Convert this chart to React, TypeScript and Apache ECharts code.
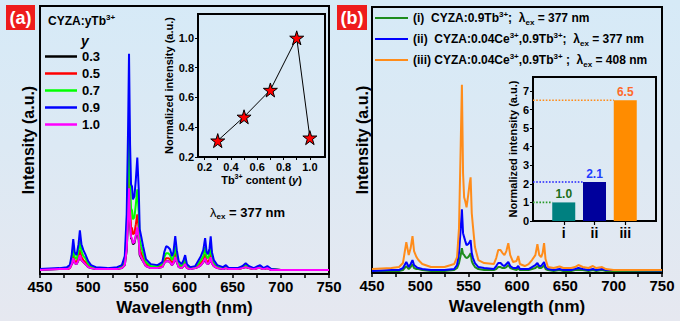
import React, { useEffect, useRef } from 'react';
import * as echarts from 'echarts';

const FONT = '"Liberation Sans", Arial, Helvetica, sans-serif';

// ---------- Panel (a): emission spectra, CYZA:yTb3+ (lambda_ex = 377 nm) ----------
const WL_A = [450,470,478,481,483,484.5,486,488,490,491.4,493,495,497,500,503,508,520,530,535,538,540,541.5,542.4,543.5,544.5,545.5,546.5,548,549.5,551,552.5,553.5,555,557,560,565,572,577,579,581,583,585,587,588.5,590.4,592,594,597,599,600.7,602.5,606,611,614,617,619.5,621.4,623,624.5,626,627.2,628.5,630.5,634,640,643,646,655,660,663.5,667,672,676,678.5,682,686,690,700,720,750];
const Y_03 = [4,5,5,6,10,15,11,10,14,18, 14,12,10,7,6,5,5,5,6,9, 24,58,84,51,36,35,30,31,38,46, 34,19,16,13,8,6,6,7,11,13, 13,12,9,11,16,12,7,6,8,10, 6,5,6,7,9,12,15,11,10,12, 16,11,8,6,5,6,5,5,6,7, 6,5,6,6,5,6,4,4,4,4];
const Y_05 = [5,5,5,6,12,20,13,12,17,24, 17,14,12,9,7,6,5,6,7,11, 32,77,112,67,47,46,40,41,50,60, 45,25,21,16,10,7,7,8,13,16, 16,15,11,13,21,14,9,7,9,12, 7,6,6,9,11,14,20,13,12,15, 21,13,9,7,6,7,5,5,6,8, 6,5,6,7,5,6,5,4,4,4];
const Y_07 = [5,5,6,8,16,26,17,15,23,33, 23,18,16,10,8,6,5,6,8,14, 44,109,160,95,66,64,55,57,70,85, 62,34,28,21,12,8,8,10,17,21, 21,19,14,17,28,18,10,8,11,15, 8,6,7,10,14,18,27,17,16,20, 28,17,11,8,6,8,5,5,7,9, 7,5,7,8,5,7,5,4,4,4];
const Y_09 = [5,6,7,9,20,35,22,19,30,44, 30,24,20,13,9,7,6,7,9,18, 60,150,221,130,90,88,75,78,95,117, 85,45,38,28,15,10,9,12,22,28, 27,25,18,22,38,24,13,10,14,19, 10,7,8,13,18,24,36,22,20,26, 38,22,14,9,7,9,6,6,8,11, 8,6,8,9,6,8,5,4,4,4];
const Y_10 = [4,5,5,6,10,16,11,10,14,19, 14,12,10,7,6,5,5,5,6,9, 25,59,86,52,37,36,31,32,39,47, 35,20,17,13,8,6,6,7,11,13, 13,12,9,11,17,12,7,6,8,10, 6,5,6,7,9,12,16,11,10,12, 17,11,8,6,5,6,5,5,6,7, 6,5,6,6,5,6,4,4,4,4];
const SERIES_A_NAMES = ['0.3', '0.5', '0.7', '0.9', '1.0'];
const SERIES_A_COLORS = ['#000000', '#ff0000', '#00ff00', '#0000ff', '#ff00ff'];

// inset (a): normalized intensity vs Tb3+ content
const TB_CONTENT = [0.3, 0.5, 0.7, 0.9, 1.0];
const NORM_INT = [0.31, 0.47, 0.65, 1.0, 0.33];
const INSET_A_X_LABELS = [0.2, 0.4, 0.6, 0.8, 1.0];
const INSET_A_X_TICKS = [0.2, 0.3, 0.4, 0.5, 0.6, 0.7, 0.8, 0.9, 1.0];
const INSET_A_Y_TICKS = [0.2, 0.4, 0.6, 0.8, 1.0];

// ---------- Panel (b) ----------
const WL_B = [450,470,478,482,485.5,488,490,491.9,493.5,496, 498,502,511,525,535,538,540,541.8,543,544.2, 545.3,546.5,547.8,549.5,551,552,553.2,554.5,556.5,560, 566,576,578.5,580.6,583,585,587,589,591,593, 596,599.5,601.3,603,608,612,615.5,619,621.1,623, 625,626.5,628,629.5,632,638,644,648,656,660, 663.5,668,674,678.5,682,688,692,700,750];
const Y_I = [2,2,2,3,7,4,6,9,5,4, 4,3,2,2,3,5,10,18,25,19, 18,16,15,16,18,20,12,9,6,4, 3,3,4,6,6,5,5,6,8,5, 4,3,5,3,3,3,4,5,7,5, 5,6,8,4,3,2,3,2,2,3, 3,3,2,3,2,3,2,2,2];
const Y_II = [2,3,3,5,11,6,9,13,8,6, 5,4,3,3,4,8,20,45,64,40, 36,32,28,29,31,33,20,15,10,6, 5,4,7,10,10,8,7,9,11,7, 5,5,7,4,4,4,6,8,10,7, 7,9,11,6,4,3,4,3,3,4, 5,4,3,4,3,4,3,3,2.5];
const Y_III = [4,5,6,10,31,18,25,37,22,16, 13,9,6,6,9,16,45,130,189,100, 76,72,66,78,90,96,60,46,26,13, 10,9,15,23,23,20,18,22,30,18, 11,12,17,9,7,9,13,18,29,18, 16,20,30,14,6,5,6.5,5,5,6, 8,6,5,7,5,6,4,3,3];
const SERIES_B_NAMES = ['i', 'ii', 'iii'];
const SERIES_B_COLORS = ['#1e8c1e', '#0000ff', '#ff8c1a'];
const LEGEND_B_TEXT: Record<string, string> = {
  i: '{t|(i)  CYZA:0.9Tb}{sup|3+}{t|;  }{l|λ}{sub|ex}{t| = 377 nm}',
  ii: '{t|(ii)  CYZA:0.04Ce}{sup|3+}{t|,0.9Tb}{sup|3+}{t|;  }{l|λ}{sub|ex}{t| = 377 nm}',
  iii: '{t|(iii) CYZA:0.04Ce}{sup|3+}{t|,0.9Tb}{sup|3+}{t| ;  }{l|λ}{sub|ex}{t| = 408 nm}',
};

// inset (b): bar chart of normalized intensity
const BAR_CATS = ['i', 'ii', 'iii'];
const BAR_VALUES = [1.0, 2.1, 6.5];
const BAR_COLORS = ['#008080', '#00009c', '#ff8c00'];
const BAR_LABEL_COLORS = ['#1a6e1a', '#1f3cff', '#ff6a2a'];
const BAR_GUIDE_COLORS = ['#2a9a2a', '#2020ff', '#ff8c1a'];
const BAR_POS = [1, 2, 3];
const INSET_B_Y_TICKS = [0, 1, 2, 3, 4, 5, 6, 7];

const X_LABELS = [450, 500, 550, 600, 650, 700, 750];
const X_TICKS = [450,475,500,525,550,575,600,625,650,675,700,725,750];

const bold = (size: number, extra: any = {}) => ({ fontSize: size, fontWeight: 'bold', color: '#000', fontFamily: FONT, ...extra });

function mainX(gridIndex: number) {
  return {
    type: 'value', gridIndex, min: 450, max: 750,
    axisLine: { show: true, lineStyle: { color: '#000', width: 2 } },
    axisTick: { show: true, customValues: X_TICKS, length: 4, lineStyle: { color: '#000', width: 1.5 } },
    axisLabel: { customValues: X_LABELS, margin: 5, ...bold(15) },
    splitLine: { show: false },
    name: 'Wavelength (nm)', nameLocation: 'middle', nameGap: 21,
    nameTextStyle: bold(17),
  };
}
function mainY(gridIndex: number, max: number, gap: number) {
  return {
    type: 'value', gridIndex, min: 0, max,
    axisLine: { show: true, lineStyle: { color: '#000', width: 2 } },
    axisTick: { show: false }, axisLabel: { show: false }, splitLine: { show: false },
    name: 'Intensity (a.u.)', nameLocation: 'middle', nameGap: gap,
    nameTextStyle: bold(16),
  };
}

function buildOption(): any {
  const seriesA = [Y_03, Y_05, Y_07, Y_09, Y_10].map((ys, k) => ({
    type: 'line', name: SERIES_A_NAMES[k], xAxisIndex: 0, yAxisIndex: 0,
    data: WL_A.map((w, i) => [w, ys[i]]), symbol: 'none', color: SERIES_A_COLORS[k],
    lineStyle: { width: 2, color: SERIES_A_COLORS[k] }, z: 2 + k,
  }));
  const seriesB = [Y_I, Y_II, Y_III].map((ys, k) => ({
    type: 'line', name: SERIES_B_NAMES[k], xAxisIndex: 2, yAxisIndex: 2,
    data: WL_B.map((w, i) => [w, ys[i]]), symbol: 'none', color: SERIES_B_COLORS[k],
    lineStyle: { width: 2, color: SERIES_B_COLORS[k] }, z: 2 + k,
  }));
  const star = 'path://M50,0 L61,35 L98,35 L68,57 L79,91 L50,70 L21,91 L32,57 L2,35 L39,35 Z';
  const barHalf = 0.37;
  const guides = BAR_VALUES.map((v, i) => ({
    type: 'line', name: 'guide' + i, xAxisIndex: 3, yAxisIndex: 3,
    data: [[0, v], [BAR_POS[i] - barHalf, v]], symbol: 'none', silent: true,
    lineStyle: { type: 'dotted', width: 1.6, color: BAR_GUIDE_COLORS[i] }, z: 3,
  }));

  const rich = {
    t: bold(12, { lineHeight: 16 }),
    sup: bold(8, { verticalAlign: 'top', lineHeight: 9 }),
    sub: bold(8, { verticalAlign: 'bottom', lineHeight: 9 }),
    l: { fontSize: 12, color: '#000', fontFamily: FONT, lineHeight: 16 },
  };

  return {
    animation: false,
    backgroundColor: 'transparent',
    grid: [
      { left: 40, top: 6, width: 289, height: 269, show: true, borderColor: '#000', borderWidth: 2 },
      { left: 198, top: 14, width: 127, height: 143, show: true, borderColor: '#000', borderWidth: 2 },
      { left: 372, top: 7, width: 290, height: 266, show: true, borderColor: '#000', borderWidth: 2 },
      { left: 533, top: 77, width: 123, height: 144, show: true, borderColor: '#000', borderWidth: 2 },
    ],
    xAxis: [
      mainX(0),
      {
        type: 'value', gridIndex: 1, min: 0.15, max: 1.115,
        axisLine: { show: true, lineStyle: { color: '#000', width: 1.5 } },
        axisTick: { show: true, customValues: INSET_A_X_TICKS, length: 3, lineStyle: { color: '#000', width: 1 } },
        axisLabel: { customValues: INSET_A_X_LABELS, formatter: (v: number) => v.toFixed(1), margin: 4, ...bold(11) },
        splitLine: { show: false },
        name: '{n|Tb}{sup|3+}{n| content (}{i|y}{n|)}', nameLocation: 'middle', nameGap: 15,
        nameTextStyle: {
          ...bold(11),
          rich: {
            n: bold(11, { lineHeight: 14 }),
            sup: bold(7, { verticalAlign: 'top', lineHeight: 8 }),
            i: bold(11, { fontStyle: 'italic', lineHeight: 14 }),
          },
        },
      },
      mainX(2),
      {
        type: 'value', gridIndex: 3, min: 0, max: 4,
        axisLine: { show: true, lineStyle: { color: '#000', width: 1.5 } },
        axisTick: { show: true, customValues: BAR_POS, length: 4, lineStyle: { color: '#000', width: 1.2 } },
        axisLabel: { customValues: BAR_POS, formatter: (v: number) => BAR_CATS[Math.round(v) - 1] || '', margin: 5, ...bold(14) },
        splitLine: { show: false },
      },
    ],
    yAxis: [
      mainY(0, 269, 4),
      {
        type: 'value', gridIndex: 1, min: 0.2, max: 1.16,
        axisLine: { show: true, lineStyle: { color: '#000', width: 1.5 } },
        axisTick: { show: true, customValues: INSET_A_Y_TICKS, length: 3, lineStyle: { color: '#000', width: 1 } },
        axisLabel: { customValues: INSET_A_Y_TICKS, formatter: (v: number) => v.toFixed(1), margin: 4, ...bold(11) },
        splitLine: { show: false },
        name: 'Normalized intensity (a.u.)', nameLocation: 'middle', nameGap: 22,
        nameTextStyle: bold(11),
      },
      mainY(2, 267, 2),
      {
        type: 'value', gridIndex: 3, min: 0, max: 7.75,
        axisLine: { show: true, lineStyle: { color: '#000', width: 1.5 } },
        axisTick: { show: true, customValues: INSET_B_Y_TICKS, length: 3, lineStyle: { color: '#000', width: 1 } },
        axisLabel: { customValues: INSET_B_Y_TICKS, margin: 4, ...bold(11) },
        splitLine: { show: false },
        name: 'Normalized intensity (a.u.)', nameLocation: 'middle', nameGap: 15,
        nameTextStyle: bold(11),
      },
    ],
    legend: [
      {
        data: SERIES_A_NAMES, orient: 'vertical', left: 45, top: 49, padding: 0,
        itemWidth: 32, itemHeight: 2.5, icon: 'rect', itemGap: 2, selectedMode: false,
        textStyle: bold(13, { lineHeight: 15 }),
      },
      {
        data: SERIES_B_NAMES, orient: 'vertical', left: 375, top: 10, padding: 0,
        itemWidth: 33, itemHeight: 2, icon: 'rect', itemGap: 5, selectedMode: false,
        formatter: (name: string) => LEGEND_B_TEXT[name],
        textStyle: { ...bold(12, { lineHeight: 16 }), rich },
      },
    ],
    series: [
      ...seriesA,
      {
        type: 'line', name: 'norm', xAxisIndex: 1, yAxisIndex: 1,
        data: TB_CONTENT.map((x, i) => [x, NORM_INT[i]]),
        symbol: star, symbolSize: 14,
        itemStyle: { color: '#ff0000', borderColor: '#000', borderWidth: 1 },
        lineStyle: { color: '#000', width: 1 }, z: 10,
      },
      ...seriesB,
      ...guides,
      {
        type: 'bar', name: 'ratio', xAxisIndex: 3, yAxisIndex: 3, barWidth: 23, z: 4,
        data: BAR_VALUES.map((v, i) => ({
          value: [BAR_POS[i], v],
          itemStyle: { color: BAR_COLORS[i] },
          label: { color: BAR_LABEL_COLORS[i] },
        })),
        label: {
          show: true, position: 'top', distance: 2,
          formatter: (p: any) => Number(p.value[1]).toFixed(1),
          ...bold(12),
        },
      },
    ],
    graphic: [
      { type: 'rect', left: 6, top: 5, shape: { width: 29, height: 25 }, style: { fill: '#ee1c1c' }, z: 20 },
      { type: 'text', x: 20.5, y: 17.5, style: { text: '(a)', fill: '#fff', font: 'bold 18px ' + FONT, align: 'center', verticalAlign: 'middle' }, z: 21 },
      { type: 'rect', left: 337, top: 5, shape: { width: 30, height: 25 }, style: { fill: '#ee1c1c' }, z: 20 },
      { type: 'text', x: 352, y: 17.5, style: { text: '(b)', fill: '#fff', font: 'bold 18px ' + FONT, align: 'center', verticalAlign: 'middle' }, z: 21 },
      {
        type: 'text', x: 48, y: 21, z: 21,
        style: {
          text: '{b|CYZA:yTb}{s|3+}', verticalAlign: 'middle',
          rich: { b: bold(12, { lineHeight: 15 }), s: bold(8, { verticalAlign: 'top', lineHeight: 9 }) },
        },
      },
      { type: 'text', x: 85, y: 41, z: 21, style: { text: 'y', font: 'italic bold 14px ' + FONT, fill: '#000', align: 'center', verticalAlign: 'middle' } },
      {
        type: 'text', x: 210, y: 212, z: 21,
        style: {
          text: '{l|λ}{s|ex}{b| = 377 nm}', verticalAlign: 'middle',
          rich: {
            l: { fontSize: 13, fill: '#000', fontFamily: FONT, lineHeight: 16 },
            s: bold(8, { verticalAlign: 'bottom', lineHeight: 9 }),
            b: bold(13, { lineHeight: 16 }),
          },
        },
      },
    ],
  };
}

export default function App() {
  const ref = useRef<HTMLDivElement>(null);
  useEffect(() => {
    if (!ref.current) return;
    const chart = echarts.init(ref.current, null, { renderer: 'svg' });
    chart.setOption(buildOption());
    return () => chart.dispose();
  }, []);
  return (
    <div
      style={{
        position: 'fixed', left: 0, top: 0, width: 680, height: 321,
        background: 'linear-gradient(180deg, #d6eaf7 0%, #dce9f4 45%, #e6e8f0 100%)',
      }}
    >
      <div ref={ref} style={{ width: 680, height: 321 }} />
    </div>
  );
}
